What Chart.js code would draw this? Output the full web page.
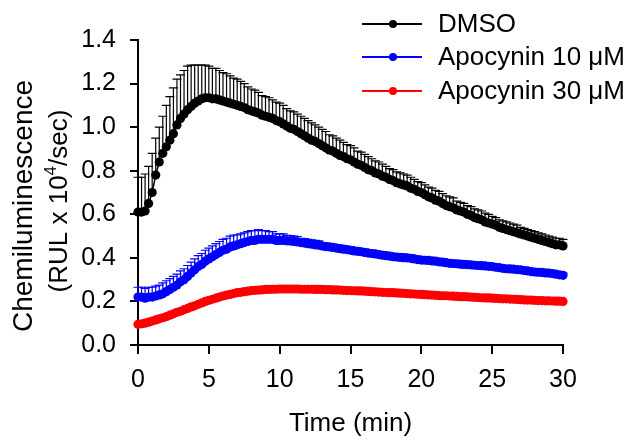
<!DOCTYPE html>
<html>
<head>
<meta charset="utf-8">
<script src="https://cdn.jsdelivr.net/npm/chart.js@4.4.0/dist/chart.umd.min.js"></script>
<style>
  html, body { margin: 0; padding: 0; background: #fff; }
  #wrap { width: 632px; height: 440px; position: relative; }
</style>
</head>
<body>
<div id="wrap"><canvas id="chart"></canvas></div>
<script>
// Time points (min), one reading every 15 s
const TIME = [
  0, 0.25, 0.5, 0.75, 1, 1.25, 1.5, 1.75, 2, 2.25, 2.5, 2.75,
  3, 3.25, 3.5, 3.75, 4, 4.25, 4.5, 4.75, 5, 5.25, 5.5, 5.75,
  6, 6.25, 6.5, 6.75, 7, 7.25, 7.5, 7.75, 8, 8.25, 8.5, 8.75,
  9, 9.25, 9.5, 9.75, 10, 10.25, 10.5, 10.75, 11, 11.25, 11.5, 11.75,
  12, 12.25, 12.5, 12.75, 13, 13.25, 13.5, 13.75, 14, 14.25, 14.5, 14.75,
  15, 15.25, 15.5, 15.75, 16, 16.25, 16.5, 16.75, 17, 17.25, 17.5, 17.75,
  18, 18.25, 18.5, 18.75, 19, 19.25, 19.5, 19.75, 20, 20.25, 20.5, 20.75,
  21, 21.25, 21.5, 21.75, 22, 22.25, 22.5, 22.75, 23, 23.25, 23.5, 23.75,
  24, 24.25, 24.5, 24.75, 25, 25.25, 25.5, 25.75, 26, 26.25, 26.5, 26.75,
  27, 27.25, 27.5, 27.75, 28, 28.25, 28.5, 28.75, 29, 29.25, 29.5, 29.75,
  30
];

const DMSO = [
  0.61, 0.61, 0.615, 0.65, 0.70, 0.78, 0.84, 0.88, 0.91, 0.94, 0.97, 1.01,
  1.04, 1.06, 1.08, 1.095, 1.11, 1.12, 1.13, 1.135, 1.135, 1.13, 1.13, 1.125,
  1.12, 1.115, 1.11, 1.105, 1.10, 1.095, 1.09, 1.08, 1.075, 1.07, 1.065, 1.055,
  1.05, 1.045, 1.04, 1.03, 1.025, 1.015, 1.005, 0.995, 0.99, 0.98, 0.97, 0.96,
  0.95, 0.94, 0.935, 0.925, 0.915, 0.905, 0.895, 0.89, 0.88, 0.87, 0.865, 0.855,
  0.85, 0.84, 0.83, 0.825, 0.815, 0.805, 0.80, 0.79, 0.785, 0.775, 0.77, 0.76,
  0.755, 0.745, 0.74, 0.735, 0.73, 0.72, 0.715, 0.705, 0.70, 0.69, 0.68, 0.675,
  0.665, 0.66, 0.65, 0.64, 0.635, 0.63, 0.62, 0.615, 0.61, 0.60, 0.595, 0.585,
  0.58, 0.575, 0.565, 0.56, 0.555, 0.55, 0.54, 0.535, 0.53, 0.525, 0.52, 0.515,
  0.51, 0.505, 0.50, 0.495, 0.49, 0.485, 0.48, 0.475, 0.47, 0.465, 0.46, 0.46,
  0.455
];
const DMSO_ERR = [
  0.16, 0.16, 0.17, 0.17, 0.18, 0.17, 0.16, 0.17, 0.19, 0.20, 0.21, 0.21,
  0.20, 0.20, 0.20, 0.19, 0.175, 0.165, 0.155, 0.15, 0.145, 0.14, 0.14, 0.135,
  0.13, 0.13, 0.125, 0.12, 0.12, 0.115, 0.11, 0.105, 0.10, 0.10, 0.095, 0.09,
  0.09, 0.09, 0.085, 0.085, 0.085, 0.085, 0.08, 0.08, 0.08, 0.08, 0.08, 0.08,
  0.08, 0.08, 0.075, 0.075, 0.075, 0.075, 0.07, 0.07, 0.07, 0.07, 0.065, 0.065,
  0.065, 0.065, 0.06, 0.06, 0.06, 0.06, 0.055, 0.055, 0.055, 0.055, 0.05, 0.05,
  0.05, 0.05, 0.05, 0.05, 0.05, 0.05, 0.045, 0.045, 0.045, 0.045, 0.045, 0.045,
  0.045, 0.045, 0.045, 0.045, 0.045, 0.045, 0.04, 0.04, 0.04, 0.04, 0.04, 0.04,
  0.04, 0.04, 0.04, 0.04, 0.035, 0.035, 0.035, 0.035, 0.035, 0.035, 0.035, 0.035,
  0.03, 0.03, 0.03, 0.03, 0.03, 0.03, 0.03, 0.03, 0.03, 0.03, 0.03, 0.03,
  0.03
];

const APO10 = [
  0.22, 0.22, 0.215, 0.22, 0.22, 0.225, 0.23, 0.235, 0.245, 0.255, 0.265, 0.275,
  0.29, 0.30, 0.315, 0.33, 0.345, 0.36, 0.37, 0.385, 0.395, 0.405, 0.415, 0.425,
  0.435, 0.44, 0.45, 0.455, 0.46, 0.465, 0.47, 0.475, 0.48, 0.48, 0.485, 0.485,
  0.485, 0.485, 0.485, 0.48, 0.48, 0.48, 0.478, 0.477, 0.475, 0.473, 0.47, 0.468,
  0.465, 0.463, 0.46, 0.458, 0.455, 0.452, 0.45, 0.448, 0.445, 0.442, 0.44, 0.438,
  0.435, 0.432, 0.43, 0.428, 0.425, 0.422, 0.42, 0.418, 0.415, 0.412, 0.41, 0.408,
  0.405, 0.404, 0.402, 0.401, 0.40, 0.398, 0.395, 0.392, 0.39, 0.389, 0.388, 0.386,
  0.385, 0.382, 0.38, 0.378, 0.375, 0.374, 0.373, 0.371, 0.37, 0.369, 0.368, 0.366,
  0.365, 0.364, 0.363, 0.361, 0.36, 0.357, 0.355, 0.352, 0.35, 0.349, 0.348, 0.346,
  0.345, 0.342, 0.34, 0.337, 0.335, 0.334, 0.333, 0.331, 0.33, 0.328, 0.325, 0.322,
  0.32
];
const APO10_ERR = [
  0.045, 0.045, 0.045, 0.045, 0.045, 0.045, 0.045, 0.05, 0.05, 0.05, 0.05, 0.05,
  0.05, 0.05, 0.05, 0.05, 0.05, 0.05, 0.05, 0.05, 0.05, 0.05, 0.05, 0.05,
  0.05, 0.05, 0.05, 0.05, 0.045, 0.045, 0.045, 0.045, 0.045, 0.045, 0.045, 0.04,
  0.04, 0.035, 0.035, 0.03, 0.03, 0.03, 0.025, 0.025, 0.025, 0.025, 0.02, 0.02,
  0.02, 0.02, 0.02, 0.02, 0.015, 0.015, 0.015, 0.015, 0.015, 0.015, 0.015, 0.015,
  0.015, 0.015, 0.015, 0.015, 0.015, 0.015, 0.015, 0.015, 0.015, 0.015, 0.015, 0.015,
  0.015, 0.015, 0.015, 0.015, 0.015, 0.015, 0.015, 0.015, 0.012, 0.012, 0.012, 0.012,
  0.012, 0.012, 0.012, 0.012, 0.012, 0.012, 0.012, 0.012, 0.012, 0.012, 0.012, 0.012,
  0.012, 0.012, 0.012, 0.012, 0.012, 0.012, 0.012, 0.012, 0.012, 0.012, 0.012, 0.012,
  0.012, 0.012, 0.012, 0.012, 0.012, 0.012, 0.012, 0.012, 0.012, 0.012, 0.012, 0.012,
  0.01
];

const APO30 = [
  0.095, 0.097, 0.10, 0.105, 0.11, 0.115, 0.12, 0.125, 0.13, 0.137, 0.143, 0.15,
  0.155, 0.162, 0.168, 0.175, 0.18, 0.187, 0.193, 0.20, 0.205, 0.21, 0.215, 0.22,
  0.225, 0.229, 0.232, 0.236, 0.24, 0.242, 0.245, 0.247, 0.25, 0.251, 0.252, 0.253,
  0.255, 0.255, 0.256, 0.256, 0.257, 0.257, 0.257, 0.257, 0.257, 0.257, 0.256, 0.256,
  0.256, 0.256, 0.255, 0.255, 0.255, 0.254, 0.254, 0.253, 0.253, 0.252, 0.251, 0.25,
  0.25, 0.249, 0.248, 0.248, 0.247, 0.246, 0.245, 0.244, 0.243, 0.242, 0.241, 0.24,
  0.24, 0.239, 0.238, 0.237, 0.236, 0.235, 0.234, 0.233, 0.232, 0.231, 0.23, 0.229,
  0.228, 0.227, 0.226, 0.226, 0.225, 0.224, 0.223, 0.222, 0.222, 0.221, 0.22, 0.219,
  0.218, 0.217, 0.216, 0.216, 0.215, 0.214, 0.213, 0.212, 0.212, 0.211, 0.21, 0.209,
  0.208, 0.207, 0.206, 0.206, 0.205, 0.204, 0.204, 0.203, 0.203, 0.202, 0.201, 0.201,
  0.20
];

const X_TICKS = [0, 5, 10, 15, 20, 25, 30];
const Y_TICKS = [0, 0.2, 0.4, 0.6, 0.8, 1.0, 1.2, 1.4];
const SERIES_NAMES = ['DMSO', 'Apocynin 10 \u03bcM', 'Apocynin 30 \u03bcM'];
const SERIES_COLORS = ['#000000', '#0000ff', '#ff0000'];

const FONT = 'Liberation Sans, Arial, sans-serif';

function toPoints(values) {
  return TIME.map((t, i) => ({ x: t, y: values[i] }));
}

// upper error bars, drawn behind the markers
const errorBars = {
  id: 'errorBars',
  beforeDatasetsDraw(chart) {
    const ctx = chart.ctx;
    const xs = chart.scales.x, ys = chart.scales.y;
    chart.data.datasets.forEach(ds => {
      if (!ds.errors) return;
      ctx.save();
      ctx.strokeStyle = ds.borderColor;
      ctx.lineWidth = 1.2;
      ds.data.forEach((p, i) => {
        const x = xs.getPixelForValue(p.x);
        const y0 = ys.getPixelForValue(p.y);
        const y1 = ys.getPixelForValue(p.y + ds.errors[i]);
        ctx.beginPath();
        ctx.moveTo(x, y0);
        ctx.lineTo(x, y1);
        ctx.moveTo(x - 4.5, y1);
        ctx.lineTo(x + 4.5, y1);
        ctx.stroke();
      });
      ctx.restore();
    });
  }
};

// legend in the upper right corner
const cornerLegend = {
  id: 'cornerLegend',
  afterDraw(chart) {
    const ctx = chart.ctx;
    const rows = [24, 57, 91];
    ctx.save();
    chart.data.datasets.forEach((ds, i) => {
      const y = rows[i];
      ctx.strokeStyle = ds.borderColor;
      ctx.lineWidth = 2;
      ctx.beginPath();
      ctx.moveTo(362, y);
      ctx.lineTo(422, y);
      ctx.stroke();
      ctx.fillStyle = ds.borderColor;
      ctx.beginPath();
      ctx.arc(393, y, 4, 0, Math.PI * 2);
      ctx.fill();
      ctx.fillStyle = '#000';
      ctx.font = '26px ' + FONT;
      ctx.textAlign = 'left';
      ctx.textBaseline = 'middle';
      ctx.fillText(ds.label, 438, y + 1);
    });
    ctx.restore();
  }
};

// two-line y-axis title with a real superscript
const yTitle = {
  id: 'yTitle',
  afterDraw(chart) {
    const ctx = chart.ctx;
    ctx.save();
    ctx.fillStyle = '#000';
    ctx.textBaseline = 'alphabetic';

    ctx.save();
    ctx.translate(32, 206);
    ctx.rotate(-Math.PI / 2);
    ctx.font = '28px ' + FONT;
    ctx.textAlign = 'center';
    ctx.fillText('Chemiluminescence', 0, 0);
    ctx.restore();

    ctx.save();
    ctx.translate(67, 201);
    ctx.rotate(-Math.PI / 2);
    const big = '26px ' + FONT, small = '17px ' + FONT;
    const a = '(RUL x 10', b = '4', c = '/sec)';
    ctx.font = big; const wa = ctx.measureText(a).width, wc = ctx.measureText(c).width;
    ctx.font = small; const wb = ctx.measureText(b).width;
    let x = -(wa + wb + wc) / 2;
    ctx.textAlign = 'left';
    ctx.font = big; ctx.fillText(a, x, 0); x += wa;
    ctx.font = small; ctx.fillText(b, x, -11); x += wb;
    ctx.font = big; ctx.fillText(c, x, 0);
    ctx.restore();

    ctx.restore();
  }
};

const datasets = [
  { label: SERIES_NAMES[0], data: toPoints(DMSO), errors: DMSO_ERR },
  { label: SERIES_NAMES[1], data: toPoints(APO10), errors: APO10_ERR },
  { label: SERIES_NAMES[2], data: toPoints(APO30) }
].map((ds, i) => Object.assign(ds, {
  borderColor: SERIES_COLORS[i],
  backgroundColor: SERIES_COLORS[i],
  pointBackgroundColor: SERIES_COLORS[i],
  pointBorderWidth: 0,
  pointRadius: 4.6,
  borderWidth: 1.5,
  tension: 0,
  clip: false
}));

new Chart(document.getElementById('chart'), {
  type: 'line',
  data: { datasets },
  plugins: [errorBars, cornerLegend, yTitle],
  options: {
    responsive: true,
    maintainAspectRatio: false,
    animation: false,
    devicePixelRatio: 1,
    layout: { padding: { top: 40, right: 69, bottom: 0, left: 0 } },
    plugins: { legend: { display: false }, tooltip: { enabled: false } },
    scales: {
      x: {
        type: 'linear',
        min: 0,
        max: 30,
        afterBuildTicks: s => { s.ticks = X_TICKS.map(v => ({ value: v })); },
        afterFit: s => { s.height = 95; },
        ticks: { color: '#000', font: { family: FONT, size: 25 }, padding: 11, maxRotation: 0 },
        grid: { drawOnChartArea: false, drawTicks: true, tickLength: 9, color: '#000', lineWidth: 2 },
        border: { color: '#000', width: 2 },
        title: { display: true, text: 'Time (min)', color: '#000', font: { family: FONT, size: 26 }, padding: { top: 0, bottom: 1 } }
      },
      y: {
        min: 0,
        max: 1.4,
        afterBuildTicks: s => { s.ticks = Y_TICKS.map(v => ({ value: v })); },
        afterFit: s => { s.width = 138; },
        ticks: { color: '#000', font: { family: FONT, size: 25 }, padding: 14, callback: v => v.toFixed(1) },
        grid: { drawOnChartArea: false, drawTicks: true, tickLength: 8, color: '#000', lineWidth: 2 },
        border: { color: '#000', width: 2 }
      }
    }
  }
});
</script>
</body>
</html>
